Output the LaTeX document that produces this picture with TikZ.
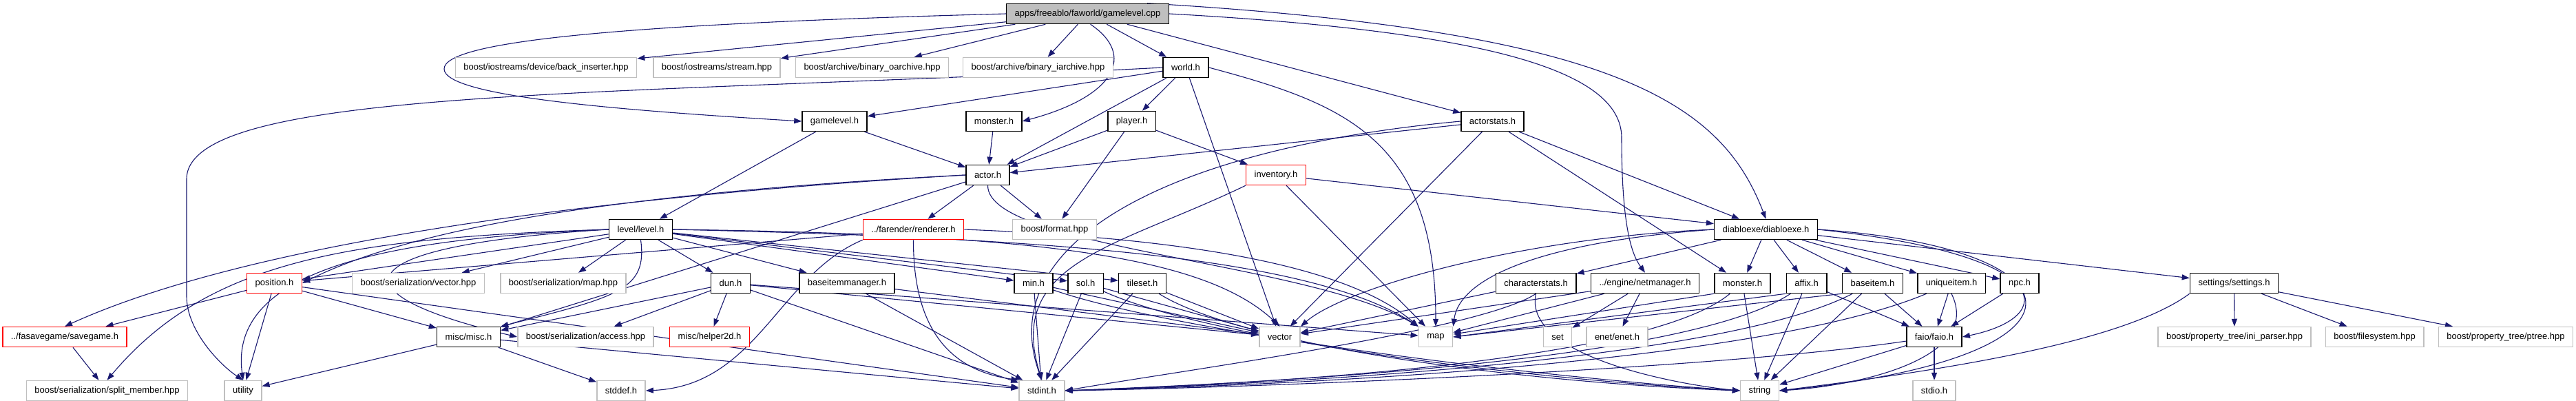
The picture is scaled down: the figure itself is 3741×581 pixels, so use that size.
\documentclass[tikz,border=0pt]{standalone}
\usepackage{fontspec}
\setmainfont{Liberation Sans}
\usetikzlibrary{arrows.meta,backgrounds}
\definecolor{edgeblue}{RGB}{25,25,112}
\definecolor{extgray}{RGB}{191,191,191}
\definecolor{truncred}{RGB}{255,0,0}
\tikzset{
  file-node/.style={draw=black, line width=1.5pt, fill=white, minimum height=29pt,
    inner xsep=12pt, inner ysep=2pt, font=\fontsize{13}{15}\selectfont},
  root-node/.style={file-node, fill=extgray},
  ext-node/.style={file-node, draw=extgray},
  trunc-node/.style={file-node, draw=truncred},
  dep-arrow/.style={-{Triangle[length=11pt,width=8pt]}, line width=1.1pt, draw=edgeblue}
}

\begin{document}
\begin{tikzpicture}[x=1pt, y=-1pt]
\useasboundingbox (0,0) rectangle (3741,581);

% Row 1
\node[root-node] (cpp) at (1579.5,20) {apps/freeablo/faworld/gamelevel.cpp};

% Row 2
\node[ext-node] (backins) at (793,98) {boost/iostreams/device/back\_inserter.hpp};
\node[ext-node] (stream) at (1041,98) {boost/iostreams/stream.hpp};
\node[ext-node] (oarch) at (1266.5,98) {boost/archive/binary\_oarchive.hpp};
\node[ext-node] (iarch) at (1507.5,98) {boost/archive/binary\_iarchive.hpp};
\node[file-node] (world) at (1722,98) {world.h};

% Row 3
\node[file-node] (gamelevelh) at (1212,176) {gamelevel.h};
\node[file-node] (monstera) at (1443.5,176) {monster.h};
\node[file-node] (player) at (1643.5,176) {player.h};
\node[file-node] (actorstats) at (2167.5,176) {actorstats.h};

% Row 4
\node[file-node] (actor) at (1434.5,254) {actor.h};
\node[trunc-node] (inventory) at (1853,254) {inventory.h};

% Row 5
\node[file-node] (level) at (930.5,333) {level/level.h};
\node[trunc-node] (renderer) at (1326.5,333) {../farender/renderer.h};
\node[ext-node] (format) at (1531.5,333) {boost/format.hpp};
\node[file-node] (diabloexe) at (2564.5,333) {diabloexe/diabloexe.h};

% Row 6
\node[trunc-node] (position) at (398.5,411) {position.h};
\node[ext-node] (servector) at (607.5,411) {boost/serialization/vector.hpp};
\node[ext-node] (sermap) at (818,411) {boost/serialization/map.hpp};
\node[file-node] (dun) at (1061,411) {dun.h};
\node[file-node] (itemmgr) at (1230,411) {baseitemmanager.h};
\node[file-node] (min) at (1501,411) {min.h};
\node[file-node] (sol) at (1576.5,411) {sol.h};
\node[file-node] (tileset) at (1659,411) {tileset.h};
\node[file-node] (charstats) at (2230.5,411) {characterstats.h};
\node[file-node] (netmgr) at (2389,411) {../engine/netmanager.h};
\node[file-node] (monsterb) at (2530.5,411) {monster.h};
\node[file-node] (affix) at (2623.5,411) {affix.h};
\node[file-node] (baseitem) at (2719.5,411) {baseitem.h};
\node[file-node] (uniqueitem) at (2834,411) {uniqueitem.h};
\node[file-node] (npc) at (2933,411) {npc.h};
\node[file-node] (settings) at (3244.5,411) {settings/settings.h};

% Row 7
\node[trunc-node] (savegame) at (94,489) {../fasavegame/savegame.h};
\node[file-node] (miscmisc) at (680.5,489) {misc/misc.h};
\node[ext-node] (access) at (850.5,489) {boost/serialization/access.hpp};
\node[trunc-node] (helper2d) at (1030.5,489) {misc/helper2d.h};
\node[ext-node] (vector) at (1858.5,489) {vector};
\node[ext-node] (map) at (2085,489) {map};
\node[ext-node] (set) at (2262,489) {set};
\node[ext-node] (enet) at (2348.5,489) {enet/enet.h};
\node[file-node] (faio) at (2809,489) {faio/faio.h};
\node[ext-node] (iniparser) at (3245,489) {boost/property\_tree/ini\_parser.hpp};
\node[ext-node] (filesystem) at (3448.5,489) {boost/filesystem.hpp};
\node[ext-node] (ptree) at (3639,489) {boost/property\_tree/ptree.hpp};

% Row 8
\node[ext-node] (split) at (155.5,567) {boost/serialization/split\_member.hpp};
\node[ext-node] (utility) at (353,567) {utility};
\node[ext-node] (stddef) at (902,567) {stddef.h};
\node[ext-node] (stdint) at (1513,567) {stdint.h};
\node[ext-node] (string) at (2555.5,567) {string};
\node[ext-node] (stdio) at (2809,567) {stdio.h};

\begin{scope}[on background layer]
% gamelevel.cpp
\draw[dep-arrow] (cpp) -- (backins);
\draw[dep-arrow] (cpp) -- (stream);
\draw[dep-arrow] (cpp) -- (oarch);
\draw[dep-arrow] (cpp) -- (iarch);
\draw[dep-arrow] (cpp) -- (world);
\draw[dep-arrow] (cpp.west) .. controls (900,35) and (645,60) .. (645,100) .. controls (645,140) and (900,160) .. (gamelevelh.west);
\draw[dep-arrow] (cpp.-75) .. controls (1650,80) and (1620,140) .. (monstera.east);
\draw[dep-arrow] (cpp) -- (actorstats);
\draw[dep-arrow] (cpp.east) .. controls (2150,45) and (2355,100) .. (2355,200) .. controls (2355,330) and (2370,370) .. (netmgr.north);
\draw[dep-arrow] (cpp.10) .. controls (2350,45) and (2500,150) .. (diabloexe.north);

% world.h
\draw[dep-arrow] (world) -- (gamelevelh);
\draw[dep-arrow] (world.west) .. controls (900,140) and (271,125) .. (271,260) -- (271,430) .. controls (271,480) and (320,530) .. (utility.north);
\draw[dep-arrow] (world) -- (actor);
\draw[dep-arrow] (world) -- (player);
\draw[dep-arrow] (world) -- (vector);
\draw[dep-arrow] (world.east) .. controls (1950,150) and (2085,200) .. (map.north);

% gamelevel.h, monster.h, player.h
\draw[dep-arrow] (gamelevelh) -- (level);
\draw[dep-arrow] (gamelevelh) -- (actor);
\draw[dep-arrow] (monstera) -- (actor);
\draw[dep-arrow] (player) -- (actor);
\draw[dep-arrow] (player) -- (format);
\draw[dep-arrow] (player) -- (inventory);

% actorstats.h
\draw[dep-arrow] (actorstats) -- (actor);
\draw[dep-arrow] (actorstats.west) .. controls (1700,215) and (1440,350) .. (stdint.north);
\draw[dep-arrow] (actorstats) -- (vector);
\draw[dep-arrow] (actorstats) -- (diabloexe);
\draw[dep-arrow] (actorstats) -- (monsterb);

% inventory.h
\draw[dep-arrow] (inventory) -- (diabloexe);
\draw[dep-arrow] (inventory) -- (map);
\draw[dep-arrow] (inventory.south west) .. controls (1620,360) and (1460,380) .. (stdint.north);

% actor.h
\draw[dep-arrow] (actor) -- (renderer);
\draw[dep-arrow] (actor) -- (format);
\draw[dep-arrow] (actor.south) .. controls (1434,360) and (1900,380) .. (map.north west);
\draw[dep-arrow] (actor.west) .. controls (700,295) and (300,380) .. (savegame.north);
\draw[dep-arrow] (actor.west) .. controls (900,280) and (600,330) .. (position.east);
\draw[dep-arrow] (actor) -- (miscmisc);

% level/level.h
\draw[dep-arrow] (level) -- (position);
\draw[dep-arrow] (level) -- (servector);
\draw[dep-arrow] (level) -- (sermap);
\draw[dep-arrow] (level) -- (dun);
\draw[dep-arrow] (level) -- (itemmgr);
\draw[dep-arrow] (level.south) .. controls (940,420) and (900,430) .. (miscmisc.north east);
\draw[dep-arrow] (level) -- (min);
\draw[dep-arrow] (level) -- (sol);
\draw[dep-arrow] (level) -- (tileset);
\draw[dep-arrow] (level.east) .. controls (1500,345) and (1900,370) .. (map.north west);
\draw[dep-arrow] (level.east) .. controls (1500,340) and (1750,370) .. (vector.north);
\draw[dep-arrow] (level.west) .. controls (500,345) and (300,380) .. (split.north);
\draw[dep-arrow] (level.west) .. controls (600,345) and (330,380) .. (utility.north);
\draw[dep-arrow] (level.west) .. controls (520,355) and (460,420) .. (access.west);

% renderer.h
\draw[dep-arrow] (renderer) -- (position);
\draw[dep-arrow] (renderer.south west) .. controls (1130,400) and (1100,560) .. (stddef.east);
\draw[dep-arrow] (renderer.south) .. controls (1326,500) and (1400,540) .. (stdint.north west);
\draw[dep-arrow] (renderer.east) .. controls (1700,345) and (1950,380) .. (map.north west);

% position.h, savegame.h, misc.h
\draw[dep-arrow] (position) -- (savegame);
\draw[dep-arrow] (position) -- (utility);
\draw[dep-arrow] (position) -- (miscmisc);
\draw[dep-arrow] (position) -- (stdint);
\draw[dep-arrow] (savegame) -- (split);
\draw[dep-arrow] (miscmisc) -- (utility);
\draw[dep-arrow] (miscmisc) -- (stddef);
\draw[dep-arrow] (miscmisc) -- (stdint);

% dun.h, baseitemmanager.h
\draw[dep-arrow] (dun) -- (miscmisc);
\draw[dep-arrow] (dun) -- (access);
\draw[dep-arrow] (dun) -- (helper2d);
\draw[dep-arrow] (dun) -- (vector);
\draw[dep-arrow] (dun) -- (map);
\draw[dep-arrow] (dun) -- (stdint);
\draw[dep-arrow] (itemmgr) -- (vector);
\draw[dep-arrow] (itemmgr) -- (stdint);

% min.h, sol.h, tileset.h
\draw[dep-arrow] (min) -- (stdint);
\draw[dep-arrow] (min) -- (vector);
\draw[dep-arrow] (min) .. controls (1700,480) and (2200,545) .. (string.west);
\draw[dep-arrow] (sol) -- (stdint);
\draw[dep-arrow] (sol) -- (vector);
\draw[dep-arrow] (sol) .. controls (1750,490) and (2200,550) .. (string.west);
\draw[dep-arrow] (tileset) -- (stdint);
\draw[dep-arrow] (tileset) -- (vector);
\draw[dep-arrow] (tileset) .. controls (1800,500) and (2200,555) .. (string.west);

% diabloexe.h
\draw[dep-arrow] (diabloexe.west) .. controls (2200,345) and (1950,420) .. (vector.north east);
\draw[dep-arrow] (diabloexe.west) .. controls (2250,350) and (2120,400) .. (map.north east);
\draw[dep-arrow] (diabloexe) -- (charstats);
\draw[dep-arrow] (diabloexe) -- (monsterb);
\draw[dep-arrow] (diabloexe) -- (affix);
\draw[dep-arrow] (diabloexe) -- (baseitem);
\draw[dep-arrow] (diabloexe) -- (uniqueitem);
\draw[dep-arrow] (diabloexe) -- (npc);
\draw[dep-arrow] (diabloexe.east) .. controls (2990,370) and (2990,460) .. (faio.east);
\draw[dep-arrow] (diabloexe.east) .. controls (3040,360) and (3060,520) .. (string.east);
\draw[dep-arrow] (diabloexe) -- (settings);

% characterstats.h, netmanager.h
\draw[dep-arrow] (charstats) -- (vector);
\draw[dep-arrow] (charstats.south) .. controls (2150,480) and (1700,540) .. (stdint.east);
\draw[dep-arrow] (charstats.south) .. controls (2210,520) and (2450,560) .. (string.west);
\draw[dep-arrow] (netmgr) -- (map);
\draw[dep-arrow] (netmgr) -- (set);
\draw[dep-arrow] (netmgr) -- (enet);
\draw[dep-arrow] (netmgr) -- (vector);

% monster.h, affix.h, baseitem.h, uniqueitem.h, npc.h
\draw[dep-arrow] (monsterb.south west) -- (map);
\draw[dep-arrow] (monsterb) .. controls (2400,520) and (1900,555) .. (stdint.east);
\draw[dep-arrow] (monsterb) -- (string);
\draw[dep-arrow] (affix.south west) -- (map.east);
\draw[dep-arrow] (affix) .. controls (2450,525) and (1850,555) .. (stdint.east);
\draw[dep-arrow] (affix) -- (string);
\draw[dep-arrow] (affix) -- (faio);
\draw[dep-arrow] (baseitem.south west) -- (map.east);
\draw[dep-arrow] (baseitem) .. controls (2500,525) and (1850,558) .. (stdint.east);
\draw[dep-arrow] (baseitem) -- (string);
\draw[dep-arrow] (baseitem) -- (faio);
\draw[dep-arrow] (uniqueitem) -- (faio);
\draw[dep-arrow] (uniqueitem.south) .. controls (2880,520) and (2700,560) .. (string.east);
\draw[dep-arrow] (uniqueitem) .. controls (2550,530) and (1850,560) .. (stdint.east);
\draw[dep-arrow] (npc) -- (faio);

% faio.h, settings.h
\draw[dep-arrow] (faio) -- (stdio);
\draw[dep-arrow] (faio) -- (string);
\draw[dep-arrow] (faio) .. controls (2500,535) and (1850,562) .. (stdint.east);
\draw[dep-arrow] (settings) -- (iniparser);
\draw[dep-arrow] (settings) -- (filesystem);
\draw[dep-arrow] (settings) -- (ptree);
\draw[dep-arrow] (settings.south west) .. controls (3080,500) and (2800,540) .. (string.east);
\end{scope}
\end{tikzpicture}
\end{document}
